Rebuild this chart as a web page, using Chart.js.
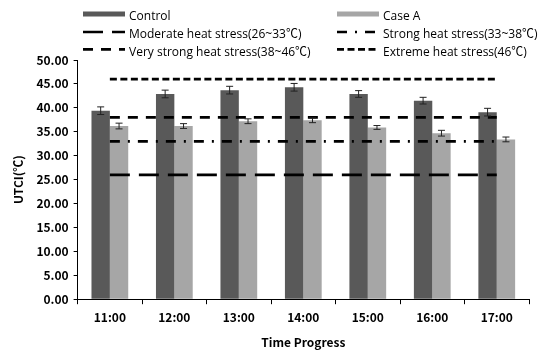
<!DOCTYPE html>
<html>
<head>
<meta charset="utf-8">
<script src="https://cdn.jsdelivr.net/npm/chart.js@4/dist/chart.umd.min.js"></script>
<style>
  html, body { margin: 0; padding: 0; background: #fff; }
  #wrap { width: 545px; height: 350px; position: relative; }
</style>
</head>
<body>
<div id="wrap"><canvas id="c"></canvas></div>
<script>
// Data
const hours = ["11:00", "12:00", "13:00", "14:00", "15:00", "16:00", "17:00"];
const controlVals = [39.4, 42.9, 43.7, 44.3, 42.9, 41.5, 39.1];
const controlErr  = [0.8, 0.8, 0.8, 0.8, 0.7, 0.7, 0.8];
const caseAVals   = [36.2, 36.2, 37.2, 37.4, 35.9, 34.7, 33.4];
const caseAErr    = [0.6, 0.5, 0.5, 0.5, 0.4, 0.6, 0.5];

// heat stress thresholds
const moderateLine   = [26, 26, 26, 26, 26, 26, 26];
const strongLine     = [33, 33, 33, 33, 33, 33, 33];
const veryStrongLine = [38, 38, 38, 38, 38, 38, 38];
const extremeLine    = [46, 46, 46, 46, 46, 46, 46];

const yTicks = [0, 5, 10, 15, 20, 25, 30, 35, 40, 45, 50];

const FONT = "'Noto Sans CJK KR', 'Noto Sans', sans-serif";
const LEGEND_FONT = "'Open Sans', 'Noto Sans CJK KR', sans-serif";

function stressLine(label, data, dash) {
  return {
    type: 'line', label: label, data: data,
    borderColor: '#000', borderWidth: 2.7, borderDash: dash,
    pointRadius: 0, fill: false, order: 0
  };
}

// error bars
const errorBars = {
  id: 'errorBars',
  afterDatasetsDraw(chart) {
    const ctx = chart.ctx;
    const y = chart.scales.y;
    ctx.save();
    ctx.strokeStyle = '#222';
    ctx.lineWidth = 1;
    chart.data.datasets.forEach((ds, di) => {
      if (!ds.err) return;
      chart.getDatasetMeta(di).data.forEach((bar, i) => {
        const top = y.getPixelForValue(ds.data[i] + ds.err[i]);
        const bot = y.getPixelForValue(ds.data[i] - ds.err[i]);
        ctx.beginPath();
        ctx.moveTo(bar.x, top); ctx.lineTo(bar.x, bot);
        ctx.moveTo(bar.x - 3.5, top); ctx.lineTo(bar.x + 3.5, top);
        ctx.moveTo(bar.x - 3.5, bot); ctx.lineTo(bar.x + 3.5, bot);
        ctx.stroke();
      });
    });
    ctx.restore();
  }
};

// legend in two columns
const legendBox = {
  id: 'legendBox',
  afterDraw(chart) {
    const ctx = chart.ctx;
    const cols = [83, 337];
    const rows = [14, 32, 49.3];
    ctx.save();
    ctx.font = '12px ' + LEGEND_FONT;
    ctx.textBaseline = 'middle';
    chart.data.datasets.forEach((ds, k) => {
      const x = cols[k % 2], yy = rows[Math.floor(k / 2)];
      if (ds.type === 'bar') {
        ctx.fillStyle = ds.backgroundColor;
        ctx.fillRect(x, yy - 2.5, 42, 5);
      } else {
        ctx.strokeStyle = '#000';
        ctx.lineWidth = 2.7;
        ctx.setLineDash(ds.borderDash);
        ctx.beginPath();
        ctx.moveTo(x, yy); ctx.lineTo(x + 42, yy);
        ctx.stroke();
        ctx.setLineDash([]);
      }
      ctx.fillStyle = '#000';
      ctx.fillText(ds.label, x + 46, yy + 3);
    });
    ctx.restore();
  }
};

new Chart(document.getElementById('c'), {
  type: 'bar',
  data: {
    labels: hours,
    datasets: [
      { type: 'bar', label: "Control", data: controlVals, err: controlErr,
        backgroundColor: '#595959', categoryPercentage: 0.57, barPercentage: 1.0, order: 1 },
      { type: 'bar', label: "Case A", data: caseAVals, err: caseAErr,
        backgroundColor: '#a6a6a6', categoryPercentage: 0.57, barPercentage: 1.0, order: 1 },
      stressLine("Moderate heat stress(26~33℃)", moderateLine, [20, 9]),
      stressLine("Strong heat stress(33~38℃)", strongLine, [10, 8, 2, 8]),
      stressLine("Very strong heat stress(38~46℃)", veryStrongLine, [10, 8]),
      stressLine("Extreme heat stress(46℃)", extremeLine, [7, 3.5])
    ]
  },
  options: {
    responsive: true,
    maintainAspectRatio: false,
    animation: false,
    layout: { padding: { top: 60, right: 16, left: 10, bottom: 0 } },
    plugins: { legend: { display: false }, tooltip: { enabled: false } },
    scales: {
      x: {
        offset: true,
        grid: { display: true, drawOnChartArea: false, offset: true, color: '#000', tickLength: 5 },
        border: { display: true, color: '#000', width: 1 },
        ticks: { color: '#000', font: { family: FONT, size: 12, weight: 'bold' }, padding: 6 },
        title: { display: true, text: 'Time Progress', color: '#000',
                 font: { family: FONT, size: 12, weight: 'bold' }, padding: { top: 5, bottom: 0 } }
      },
      y: {
        min: 0, max: 50,
        afterBuildTicks(axis) { axis.ticks = yTicks.map(v => ({ value: v })); },
        grid: { display: true, drawOnChartArea: false, color: '#000', tickLength: 4 },
        border: { display: true, color: '#000', width: 1 },
        ticks: { color: '#000', font: { family: FONT, size: 12, weight: 'bold' },
                 callback: v => v.toFixed(2), padding: 5 },
        title: { display: true, text: 'UTCI(℃)', color: '#000',
                 font: { family: FONT, size: 12, weight: 'bold' }, padding: { top: 1, bottom: 6 } }
      }
    }
  },
  plugins: [errorBars, legendBox]
});
</script>
</body>
</html>
